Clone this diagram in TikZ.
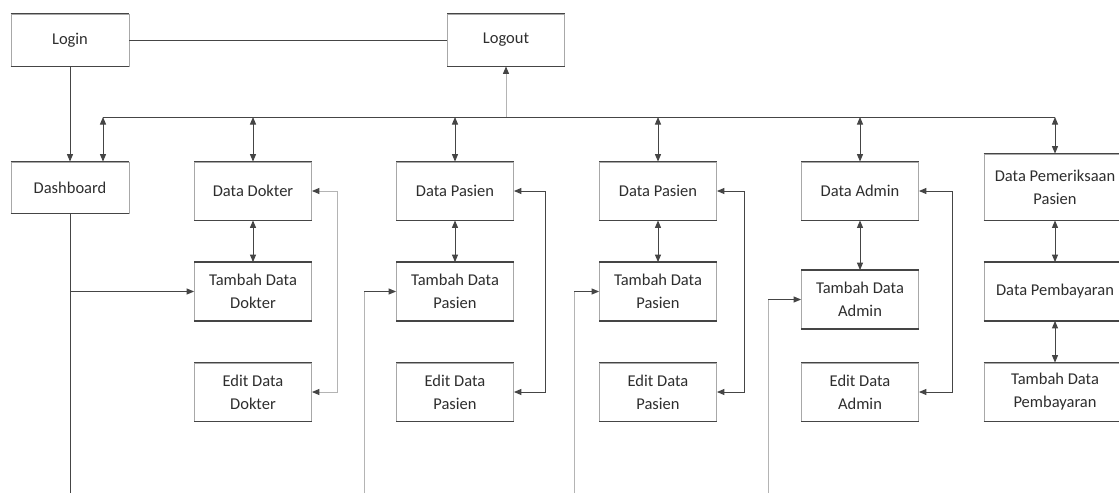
\documentclass[tikz,border=0pt]{standalone}
\usepackage{fontspec}
\setmainfont{Carlito}
\usepackage{tikz}
\usetikzlibrary{arrows.meta,positioning,calc}
\usepackage{xcolor}
\definecolor{inkgray}{HTML}{2E2E2E}
\definecolor{edgegray}{HTML}{454545}
\definecolor{sidegray}{HTML}{A8A8A8}
\definecolor{fadegray}{HTML}{B4B4B4}

\tikzset{
  box/.style={draw=sidegray, line width=0.8pt, fill=white, text=inkgray,
    minimum width=117pt, minimum height=58pt, inner sep=2pt, align=center,
    font=\fontsize{16.5}{23}\selectfont,
    append after command={
      (\tikzlastnode.north west) edge[edgegray, line width=1.3pt] (\tikzlastnode.north east)
      (\tikzlastnode.south west) edge[edgegray, line width=1.3pt] (\tikzlastnode.south east)}},
  link/.style={draw=edgegray, line width=1pt},
  faint/.style={draw=fadegray, line width=1pt},
  tip/.style={-{Triangle[length=7.5pt,width=6pt,color=edgegray]}},
  bitip/.style={{Triangle[length=7.5pt,width=6pt,color=edgegray]}-{Triangle[length=7.5pt,width=6pt,color=edgegray]}}
}

\begin{document}
\begin{tikzpicture}[x=1pt, y=-1pt]
  \useasboundingbox (0,0) rectangle (1119,493);
  \clip (0,0) rectangle (1119,493);
  % Helper rows
  \coordinate (bus) at (0,117);
  \coordinate (bottom) at (0,493);

  % Top row
  \node[box, minimum width=118pt, minimum height=52pt] (login) at (70,40) {Login};
  \node[box, minimum height=52pt] (logout) at (506,40) {Logout};

  % Menu row
  \node[box, minimum width=118pt, minimum height=51pt] (dash) at (70,187.5) {Dashboard};
  \node[box] (dok) at (253,191) {Data Dokter};
  \node[box] (pas) at (455,191) {Data Pasien};
  \node[box] (pasb) at (658,191) {Data Pasien};
  \node[box] (adm) at (860,191) {Data Admin};
  \node[box, minimum width=142pt, minimum height=66pt] (periksa) at (1055,187) {Data Pemeriksaan\\Pasien};

  % Sub menus
  \node[box] (tdok) at (253,291.5) {Tambah Data\\Dokter};
  \node[box] (edok) at (253,392) {Edit Data\\Dokter};
  \node[box] (tpas) at (455,291.5) {Tambah Data\\Pasien};
  \node[box] (epas) at (455,392) {Edit Data\\Pasien};
  \node[box] (tpasb) at (658,291.5) {Tambah Data\\Pasien};
  \node[box] (epasb) at (658,392) {Edit Data\\Pasien};
  \node[box] (tadm) at (860,299.5) {Tambah Data\\Admin};
  \node[box] (eadm) at (860,392) {Edit Data\\Admin};
  \node[box, minimum width=142pt] (bayar) at (1055,291.5) {Data Pembayaran};
  \node[box, minimum width=142pt] (tbayar) at (1055,392) {Tambah Data\\Pembayaran};

  % Login / Logout
  \draw[link] (login) -- (logout);
  \draw[link, tip] (login) -- (dash);
  \draw[faint, tip] (logout.south |- bus) -- (logout.south);

  % Menu bus
  \coordinate (dtop) at ([xshift=33pt]dash.north);
  \draw[link] (dtop |- bus) -- (periksa.north |- bus);
  \draw[link, bitip] (dtop |- bus) -- (dtop);
  \foreach \n in {dok,pas,pasb,adm,periksa}{
    \draw[link, bitip] (\n.north |- bus) -- (\n.north);
  }

  % Data <-> Tambah
  \foreach \a/\b in {dok/tdok,pas/tpas,pasb/tpasb,adm/tadm,periksa/bayar,bayar/tbayar}{
    \draw[link, bitip] (\a) -- (\b);
  }

  % Data <-> Edit returns
  \draw[faint, bitip] (dok.east) -| ($(edok.east)+(26,0)$) -- (edok.east);
  \draw[link, bitip] (pas.east) -| ($(epas.east)+(32,0)$) -- (epas.east);
  \draw[link, bitip] (pasb.east) -| ($(epasb.east)+(28,0)$) -- (epasb.east);
  \draw[link, bitip] (adm.east) -| ($(eadm.east)+(34,0)$) -- (eadm.east);

  % Incoming lines from below
  \draw[link] (dash.south) -- (dash.south |- bottom);
  \draw[link, tip] (dash.south |- tdok.west) -- (tdok.west);
  \coordinate (inpas) at (364,493);
  \coordinate (inpasb) at (574,493);
  \coordinate (inadm) at (768,493);
  \draw[faint] (inpas) -- (inpas |- tpas.west);
  \draw[link, tip] (inpas |- tpas.west) -- (tpas.west);
  \draw[faint] (inpasb) -- (inpasb |- tpasb.west);
  \draw[link, tip] (inpasb |- tpasb.west) -- (tpasb.west);
  \draw[faint] (inadm) -- (inadm |- tadm.west);
  \draw[link, tip] (inadm |- tadm.west) -- (tadm.west);
\end{tikzpicture}
\end{document}
